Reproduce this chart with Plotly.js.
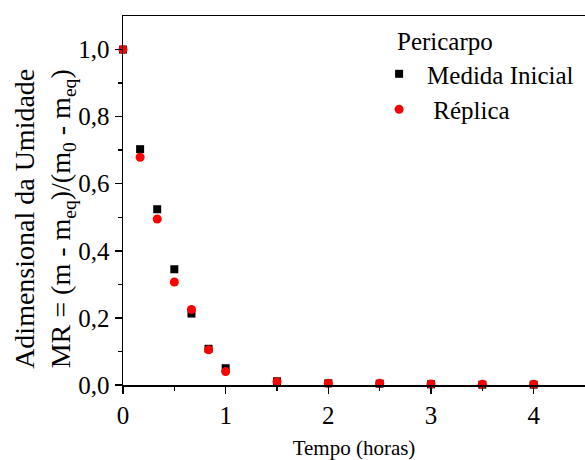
<!DOCTYPE html>
<html>
<head>
<meta charset="utf-8">
<script src="https://cdn.plot.ly/plotly-3.0.1.min.js"></script>
<style>html,body{margin:0;padding:0;background:#fff;}#chart{width:585px;height:460px;}</style>
</head>
<body>
<div id="chart"></div>
<script>
var tempo = [0, 0.1667, 0.3333, 0.5, 0.6667, 0.8333, 1, 1.5, 2, 2.5, 3, 3.5, 4];
var medidaInicial = [1.0, 0.703, 0.524, 0.345, 0.213, 0.108, 0.05, 0.011, 0.005, 0.004, 0.002, 0.001, 0.001];
var replica = [1.0, 0.679, 0.495, 0.307, 0.225, 0.105, 0.04, 0.01, 0.005, 0.005, 0.003, 0.002, 0.002];
var yTicks = [0, 0.2, 0.4, 0.6, 0.8, 1.0];
var xTicks = [0, 1, 2, 3, 4];
var legendTitle = 'Pericarpo';
var yTitle = 'Adimensional da Umidade<br>MR = (m - m<sub>eq</sub>)/(m<sub>0</sub> - m<sub>eq</sub>)';
var xTitle = 'Tempo (horas)';

var font = "Liberation Serif";
var traces = [
  {x: tempo, y: medidaInicial, type: 'scatter', mode: 'markers', name: 'Medida Inicial',
   marker: {symbol: 'square', size: 8, color: '#000000'}, cliponaxis: false},
  {x: tempo, y: replica, type: 'scatter', mode: 'markers', name: '\u00a0Réplica',
   marker: {symbol: 'circle', size: 9, color: '#ff0000'}, cliponaxis: false}
];
var layout = {
  width: 585, height: 460,
  margin: {l: 123, r: 0, t: 16, b: 75},
  paper_bgcolor: '#fff', plot_bgcolor: '#fff',
  separators: ',.',
  font: {family: font, color: '#000', size: 25},
  showlegend: true,
  legend: {
    x: 0.537, y: 0.905, xanchor: 'left', yanchor: 'top',
    bgcolor: 'rgba(0,0,0,0)',
    font: {family: font, size: 25},
    itemwidth: 46, tracegroupgap: 0
  },
  annotations: [
    {text: legendTitle, xref: 'paper', yref: 'paper', x: 0.589, y: 0.932,
     xanchor: 'left', yanchor: 'middle', showarrow: false, font: {family: font, size: 25}},
    {text: yTitle, xref: 'paper', yref: 'paper', x: -0.169, y: 0.45,
     xanchor: 'center', yanchor: 'middle', textangle: -90, showarrow: false,
     font: {family: font, size: 28}}
  ],
  xaxis: {
    range: [0, 4.5], tickvals: xTicks, ticktext: xTicks.map(String),
    showline: true, linecolor: '#000', linewidth: 1.5, mirror: true,
    ticks: 'outside', ticklen: 7, tickwidth: 1.5, tickcolor: '#000',
    minor: {tickvals: [0.5, 1.5, 2.5, 3.5], ticks: 'outside', ticklen: 4, tickwidth: 1.5, tickcolor: '#000'},
    showgrid: false, zeroline: false,
    tickfont: {family: font, size: 25},
    title: {text: xTitle, font: {family: font, size: 21}, standoff: 18}
  },
  yaxis: {
    range: [0, 1.1], tickvals: yTicks, tickformat: '.1f',
    showline: true, linecolor: '#000', linewidth: 1.5,
    ticks: 'outside', ticklen: 7, tickwidth: 1.5, tickcolor: '#000',
    minor: {tickvals: [0.1, 0.3, 0.5, 0.7, 0.9], ticks: 'outside', ticklen: 4, tickwidth: 1.5, tickcolor: '#000'},
    showgrid: false, zeroline: false,
    tickfont: {family: font, size: 25}
  }
};
Plotly.newPlot('chart', traces, layout, {displayModeBar: false, staticPlot: true});
</script>
</body>
</html>
